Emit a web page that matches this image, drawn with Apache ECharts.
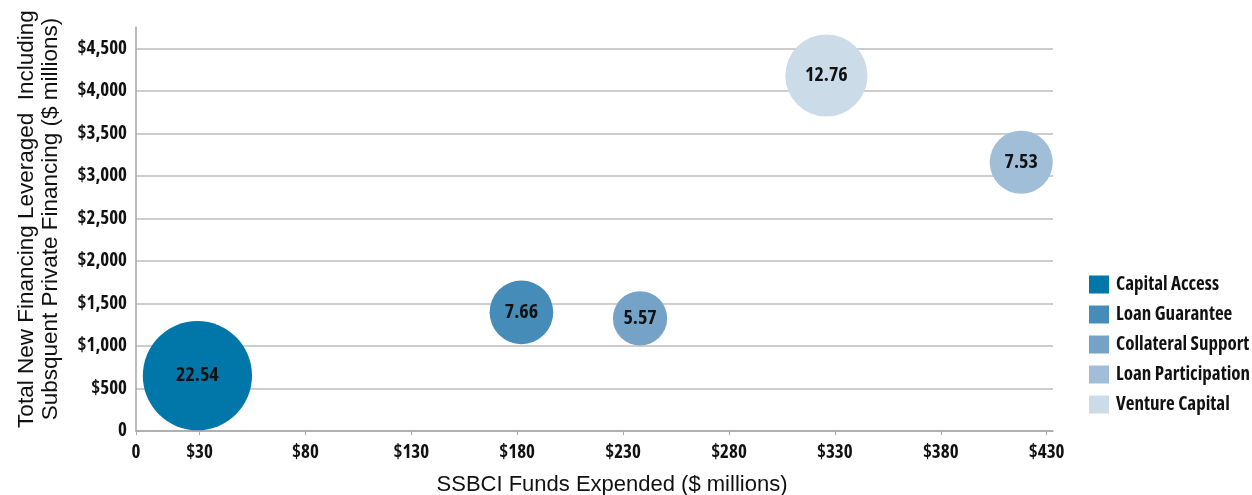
<!DOCTYPE html>
<html>
<head>
<meta charset="utf-8">
<script src="https://cdn.jsdelivr.net/npm/echarts@6/dist/echarts.min.js"></script>
<style>
  html, body { margin: 0; padding: 0; background: #fff; }
  #main { width: 1252px; height: 495px; }
</style>
</head>
<body>
<div id="main"></div>
<script>
// program types, each one bubble
var programs = ['Capital Access', 'Loan Guarantee', 'Collateral Support', 'Loan Participation', 'Venture Capital'];
var fundsExpended = [29, 182, 238, 418, 326];          // x, $ millions
var totalFinancing = [650, 1395, 1325, 3160, 4180];     // y, $ millions
var leverageRatio = [22.54, 7.66, 5.57, 7.53, 12.76];   // bubble size + label
var colors = ['#0077a8', '#468cb9', '#74a3c7', '#a1bed9', '#ccdbe8'];
var xTicks = [0, 30, 80, 130, 180, 230, 280, 330, 380, 430];

// condensed bold, DIN-ish (Open Sans has a width axis)
var narrow = '"Open Sans", sans-serif';
var narrowWeight = 'bold condensed';

var myChart = echarts.init(document.getElementById('main'));

function money(v) {
	if (v === 0) return '0';
	return '$' + v.toString().replace(/\B(?=(\d{3})+(?!\d))/g, ',');
}

var series = [];
for (var i = 0; i < programs.length; i++) {
	series.push({
		name: programs[i],
		type: 'scatter',
		data: [[fundsExpended[i], totalFinancing[i], leverageRatio[i]]],
		symbolSize: function (val) { return 23 * Math.sqrt(val[2]); },
		itemStyle: { color: colors[i], opacity: 1 },
		label: {
			show: true,
			position: 'inside',
			formatter: function (p) { return p.value[2].toFixed(2); },
			color: '#111',
			fontFamily: narrow,
			fontWeight: narrowWeight,
			fontSize: 20
		}
	});
}

var option = {
	animation: false,
	grid: { left: 136, right: 199, top: 27, bottom: 64 },
	legend: {
		orient: 'vertical',
		left: 1084,
		top: 270,
		icon: 'rect',
		itemWidth: 20,
		itemHeight: 18,
		itemGap: 11,
		data: programs,
		textStyle: { fontFamily: narrow, fontWeight: narrowWeight, fontSize: 19, color: '#111', padding: [0, 0, 0, 2] }
	},
	xAxis: {
		type: 'value',
		min: 0,
		max: 433,
		splitLine: { show: false },
		axisLine: { lineStyle: { color: '#a6a6a6', width: 1.5 } },
		axisTick: { show: true, length: 4, customValues: xTicks, lineStyle: { color: '#a6a6a6' } },
		axisLabel: {
			customValues: xTicks,
			formatter: money,
			margin: 12,
			color: '#111',
			fontFamily: narrow,
			fontWeight: narrowWeight,
			fontSize: 19
		}
	},
	yAxis: {
		type: 'value',
		min: 0,
		max: 4750,
		interval: 500,
		axisLine: { show: true, lineStyle: { color: '#a6a6a6', width: 1.5 } },
		axisTick: { show: false },
		splitLine: { show: true, showMaxLine: false, lineStyle: { color: '#bdbdbd', width: 1.5 } },
		axisLabel: {
			showMaxLabel: false,
			formatter: money,
			margin: 9,
			color: '#111',
			fontFamily: narrow,
			fontWeight: narrowWeight,
			fontSize: 19
		}
	},
	graphic: [
		{
			type: 'text',
			x: 39, y: 219,
			rotation: Math.PI / 2,
			style: {
				text: 'Total New Financing Leveraged  Including\nSubsquent Private Financing ($ millions)',
				align: 'center',
				verticalAlign: 'middle',
				lineHeight: 24,
				font: '22.5px "Liberation Sans", sans-serif',
				fill: '#111'
			}
		},
		{
			type: 'text',
			x: 612, y: 485,
			style: {
				text: 'SSBCI Funds Expended ($ millions)',
				align: 'center',
				verticalAlign: 'middle',
				font: '22px "Liberation Sans", sans-serif',
				fill: '#111'
			}
		}
	],
	series: series
};

myChart.setOption(option);
</script>
</body>
</html>
